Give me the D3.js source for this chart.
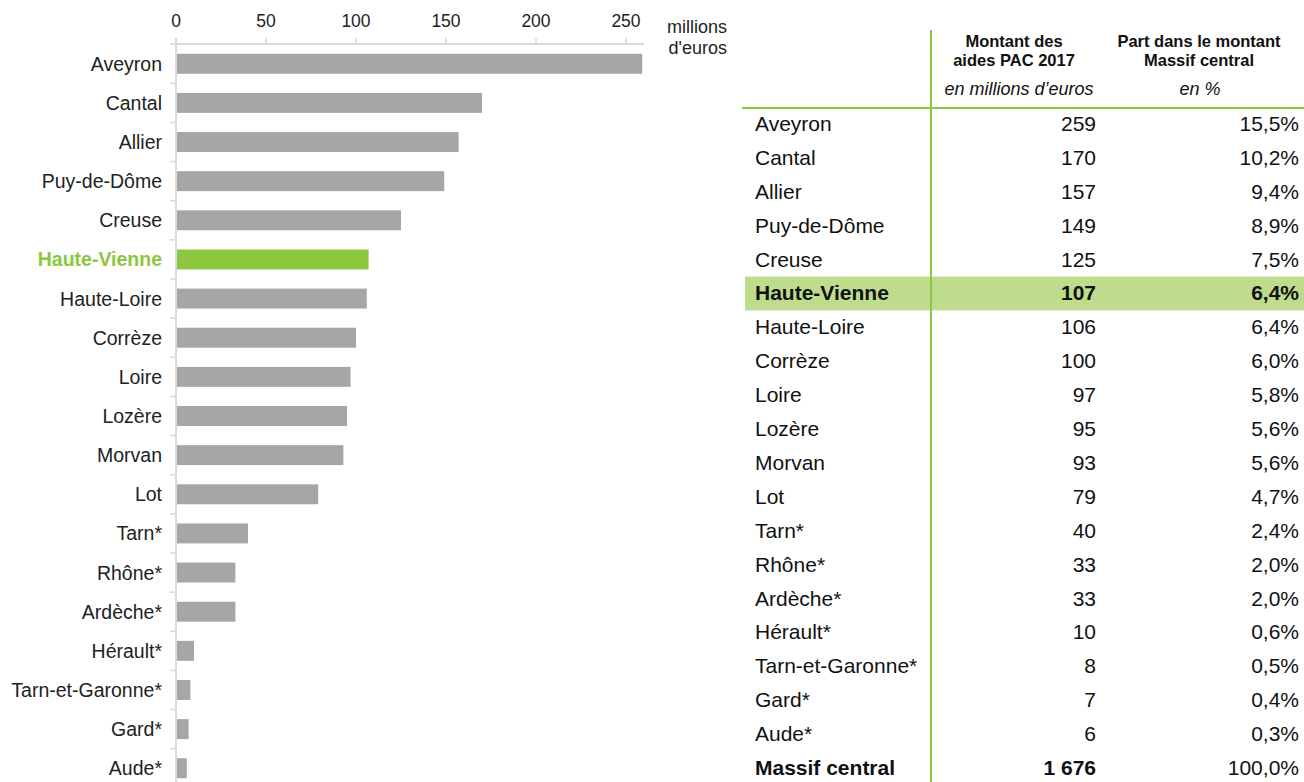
<!DOCTYPE html>
<html>
<head>
<meta charset="utf-8">
<script src="https://cdn.jsdelivr.net/npm/d3@7"></script>
<style>
  body { margin: 0; background: #fff; }
  svg { font-family: "Liberation Sans", Arial, sans-serif; }
</style>
</head>
<body>
<div id="chart"></div>
<script>
const departements = ["Aveyron", "Cantal", "Allier", "Puy-de-Dôme", "Creuse", "Haute-Vienne",
  "Haute-Loire", "Corrèze", "Loire", "Lozère", "Morvan", "Lot", "Tarn*", "Rhône*", "Ardèche*",
  "Hérault*", "Tarn-et-Garonne*", "Gard*", "Aude*"];
const montants = [259, 170, 157, 149, 125, 107, 106, 100, 97, 95, 93, 79, 40, 33, 33, 10, 8, 7, 6];
const parts = ["15,5%", "10,2%", "9,4%", "8,9%", "7,5%", "6,4%", "6,4%", "6,0%", "5,8%", "5,6%",
  "5,6%", "4,7%", "2,4%", "2,0%", "2,0%", "0,6%", "0,5%", "0,4%", "0,3%"];
const totalLabel = "Massif central";
const totalMontant = "1 676";
const totalPart = "100,0%";
const xTicks = [0, 50, 100, 150, 200, 250];
const highlight = "Haute-Vienne";

const width = 1304, height = 782;
const svg = d3.select("#chart").append("svg")
  .attr("width", width).attr("height", height);

// ---- bar chart
const x = d3.scaleLinear().domain([0, 260]).range([176, 644]);
const y = d3.scaleBand().domain(departements).range([44, 788]).paddingInner(0.49).paddingOuter(0.25);
const grey = "#d9d9d9";

svg.append("line").attr("x1", 176).attr("x2", 644).attr("y1", 44).attr("y2", 44)
  .attr("stroke", grey).attr("stroke-width", 2);
svg.append("line").attr("x1", 176).attr("x2", 176).attr("y1", 38).attr("y2", height)
  .attr("stroke", grey).attr("stroke-width", 2);

svg.selectAll(".xtick").data(xTicks).enter().append("line")
  .attr("x1", d => x(d)).attr("x2", d => x(d)).attr("y1", 38).attr("y2", 44)
  .attr("stroke", grey).attr("stroke-width", 1.5);
svg.selectAll(".xlab").data(xTicks).enter().append("text")
  .attr("x", d => x(d)).attr("y", 27).attr("text-anchor", "middle")
  .attr("font-size", 17.5).attr("fill", "#222").text(d => d);

const step = y.step();
svg.selectAll(".ytick").data(departements).enter().append("line")
  .attr("x1", 170).attr("x2", 176)
  .attr("y1", d => y(d) + y.bandwidth() / 2 + step / 2)
  .attr("y2", d => y(d) + y.bandwidth() / 2 + step / 2)
  .attr("stroke", grey).attr("stroke-width", 1.5);
svg.append("line").attr("x1", 170).attr("x2", 176)
  .attr("y1", y(departements[0]) + y.bandwidth() / 2 - step / 2)
  .attr("y2", y(departements[0]) + y.bandwidth() / 2 - step / 2)
  .attr("stroke", grey).attr("stroke-width", 1.5);

svg.selectAll(".bar").data(departements).enter().append("rect")
  .attr("x", 177).attr("y", d => y(d))
  .attr("width", (d, i) => x(montants[i]) - 177)
  .attr("height", y.bandwidth())
  .attr("fill", d => d === highlight ? "#8dc63f" : "#a6a6a6");

svg.selectAll(".ylab").data(departements).enter().append("text")
  .attr("x", 162).attr("y", d => y(d) + y.bandwidth() / 2 + 7)
  .attr("text-anchor", "end").attr("font-size", 19.5)
  .attr("font-weight", d => d === highlight ? "bold" : "normal")
  .attr("fill", d => d === highlight ? "#8dc63f" : "#222")
  .text(d => d);

svg.append("text").attr("x", 727).attr("y", 33).attr("text-anchor", "end")
  .attr("font-size", 18).attr("fill", "#222").text("millions");
svg.append("text").attr("x", 727).attr("y", 54).attr("text-anchor", "end")
  .attr("font-size", 18).attr("fill", "#222").text("d'euros");

// ---- table
const rows = departements.concat([totalLabel]);
const ty = d3.scaleBand().domain(rows).range([107, 785]);
const green = "#8dc63f";

svg.append("rect").attr("x", 745).attr("y", ty(highlight))
  .attr("width", width - 745).attr("height", ty.bandwidth())
  .attr("fill", "#bddd8c");

svg.append("line").attr("x1", 742).attr("x2", width).attr("y1", 108).attr("y2", 108)
  .attr("stroke", green).attr("stroke-width", 2);
svg.append("line").attr("x1", 931).attr("x2", 931).attr("y1", 30).attr("y2", height)
  .attr("stroke", green).attr("stroke-width", 2);

const head = svg.append("g").attr("fill", "#111").attr("text-anchor", "middle");
head.append("text").attr("x", 1014).attr("y", 47).attr("font-size", 16.5).attr("font-weight", "bold").text("Montant des");
head.append("text").attr("x", 1014).attr("y", 66).attr("font-size", 16.5).attr("font-weight", "bold").text("aides PAC 2017");
head.append("text").attr("x", 1019).attr("y", 95).attr("font-size", 18).attr("font-style", "italic").text("en millions d’euros");
head.append("text").attr("x", 1199).attr("y", 47).attr("font-size", 16.5).attr("font-weight", "bold").text("Part dans le montant");
head.append("text").attr("x", 1199).attr("y", 66).attr("font-size", 16.5).attr("font-weight", "bold").text("Massif central");
head.append("text").attr("x", 1200).attr("y", 95).attr("font-size", 18).attr("font-style", "italic").text("en %");

const rowG = svg.selectAll(".row").data(rows).enter().append("g")
  .attr("transform", d => `translate(0,${ty(d) + ty.bandwidth() / 2 + 7})`)
  .attr("font-size", 21).attr("fill", "#111");
const isBold = d => d === highlight || d === totalLabel;
rowG.append("text").attr("x", 755).attr("font-weight", d => isBold(d) ? "bold" : "normal").text(d => d);
rowG.append("text").attr("x", 1096).attr("text-anchor", "end")
  .attr("font-weight", d => isBold(d) ? "bold" : "normal")
  .text((d, i) => i < montants.length ? montants[i] : totalMontant);
rowG.append("text").attr("x", 1299).attr("text-anchor", "end")
  .attr("font-weight", d => d === highlight ? "bold" : "normal")
  .text((d, i) => i < parts.length ? parts[i] : totalPart);
</script>
</body>
</html>
